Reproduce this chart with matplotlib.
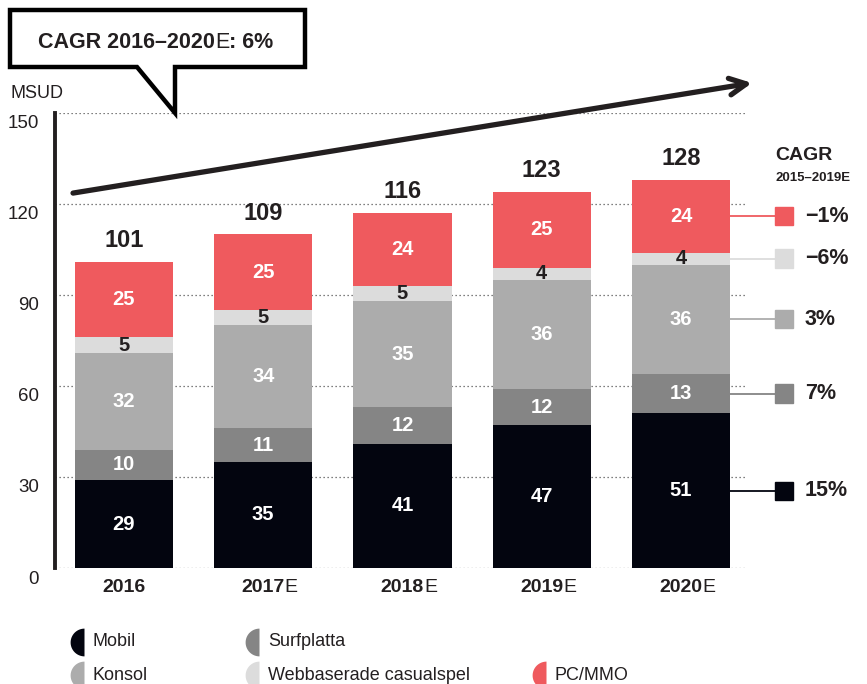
import matplotlib.pyplot as plt
from matplotlib.patches import Polygon, Rectangle
from matplotlib.text import Annotation
import numpy as np

plt.rcParams['font.family'] = ['Liberation Sans', 'DejaVu Sans']

years = ['2016', '2017', '2018', '2019', '2020']
suffix = ['', 'E', 'E', 'E', 'E']
mobil = [29, 35, 41, 47, 51]
surf = [10, 11, 12, 12, 13]
konsol = [32, 34, 35, 36, 36]
webb = [5, 5, 5, 4, 4]
pc = [25, 25, 24, 25, 24]
totals = [101, 109, 116, 123, 128]
cagr = ['15%', '7%', '3%', '\u22126%', '\u22121%']
names = ['Mobil', 'Surfplatta', 'Konsol', 'Webbaserade casualspel', 'PC/MMO']
colors = ['#03050f', '#858585', '#acacac', '#dcdcdc', '#ef5a5e']
label_col = ['white', 'white', 'white', '#231f20', 'white']
yticks = [0, 30, 60, 90, 120, 150]

dark = '#231f20'
W, H = 867, 684

def fx(x):
    return x / W

def fy(y):
    return 1 - y / H

fig = plt.figure(figsize=(W / 100, H / 100), dpi=100)
ax = fig.add_axes([fx(55), fy(568), (747 - 55) / W, (568 - 113) / H])
ax.set_xlim(-0.4955, 4.474)
ax.set_ylim(0, 150)

# gridlines
for v in yticks:
    ax.axhline(v, color='#555555', lw=0.9, ls=(0, (1, 2.2)), zorder=0)

series = [mobil, surf, konsol, webb, pc]
x = list(range(len(years)))
bw = 0.704
bottom = [0] * len(years)
for s, c, tc in zip(series, colors, label_col):
    ax.bar(x, s, bw, bottom=bottom, color=c, zorder=2)
    for i in x:
        ax.text(i, bottom[i] + s[i] / 2, str(s[i]), ha='center', va='center',
                color=tc, fontsize=14.5, fontweight='bold', zorder=3)
    bottom = [b + v for b, v in zip(bottom, s)]

for i in x:
    ax.text(i, bottom[i] + 3.2, str(totals[i]), ha='center', va='bottom',
            color=dark, fontsize=17, fontweight='bold')

# axis
for sp in ['top', 'right', 'bottom']:
    ax.spines[sp].set_visible(False)
ax.spines['left'].set_color(dark)
ax.spines['left'].set_linewidth(2.8)
ax.spines['left'].set_bounds(0, 150)
ax.set_yticks([])
ax.set_xticks([])
# y labels sit a little below their gridlines
for v in yticks:
    ax.annotate(str(v), xy=(0, v), xycoords=('axes fraction', 'data'),
                xytext=(-16, -11), textcoords='offset pixels', ha='right',
                va='center', fontsize=13.5, color=dark, annotation_clip=False)

# x labels: bold year + regular E
for i in x:
    t = ax.text(i, -6.5, years[i], ha='center', va='center', fontsize=14,
                fontweight='bold', color=dark)
    if suffix[i]:
        ax.annotate(suffix[i], xy=(1, 0.5), xycoords=t, va='center', ha='left',
                    fontsize=14, color=dark, annotation_clip=False)

# growth arrow
ax.annotate('', xy=(4.51, 159.9), xytext=(-0.366, 123.6),
            arrowprops=dict(arrowstyle='->,head_length=1.2,head_width=0.6',
                            lw=3.8, color=dark, capstyle='round',
                            joinstyle='round', shrinkA=0, shrinkB=0),
            annotation_clip=False)

# right CAGR legend
fig.text(fx(775), fy(155), 'CAGR', fontsize=14, fontweight='bold', color=dark,
         va='center', ha='left')
fig.text(fx(775), fy(178), '2015\u20132019E', fontsize=9.5, fontweight='bold',
         color=dark, va='center', ha='left')
b = 0
for s, c, lab in zip(series, colors, cagr):
    mid = b + s[-1] / 2
    b += s[-1]
    ax.plot([4 + bw / 2, 4.675], [mid, mid], color=c, lw=1.3, clip_on=False, zorder=1)
    ax.add_patch(Rectangle((4.675, mid - 3.0), 0.129, 6.0, color=c, clip_on=False))
    ax.text(4.89, mid, lab, fontsize=15.5, fontweight='bold', color=dark,
            va='center', ha='left', clip_on=False)

# callout box
pts = [(10, 10), (305, 10), (305, 67), (175, 67), (175, 113), (137, 67), (10, 67)]
fig.patches.append(Polygon([(fx(a), fy(c)) for a, c in pts], closed=True,
                           facecolor='white', edgecolor='black', lw=3.2,
                           joinstyle='miter', transform=fig.transFigure))
t1 = fig.text(fx(38), fy(42), 'CAGR 2016\u20132020', fontsize=15.5, fontweight='bold',
              color=dark, va='center', ha='left')
t2 = Annotation('E', xy=(1, 0.5), xycoords=t1, va='center', ha='left',
                fontsize=15.5, color=dark, annotation_clip=False, zorder=5)
fig.add_artist(t2)
t3 = Annotation(': 6%', xy=(1, 0.5), xycoords=t2, va='center', ha='left',
                fontsize=15.5, fontweight='bold', color=dark,
                annotation_clip=False, zorder=5)
fig.add_artist(t3)

fig.text(fx(10), fy(93), 'MSUD', fontsize=13, color=dark, va='center', ha='left')

# bottom legend with half-disc markers (flat side at marker position)
th = np.linspace(np.pi / 2, 3 * np.pi / 2, 30)
half = np.column_stack([np.cos(th), np.sin(th)])
leg_pos = [(93, 642), (268, 642), (93, 675), (268, 675), (555, 675)]
for (lx, ly), n, c in zip(leg_pos, names, colors):
    fig.add_artist(plt.Line2D([fx(lx - 9)], [fy(ly)], marker=half, markersize=20,
                              color=c, markeredgewidth=0, linestyle='none',
                              transform=fig.transFigure))
    fig.text(fx(lx), fy(ly), n, fontsize=13, color=dark, va='center', ha='left')

fig.savefig('out.png', dpi=100)
